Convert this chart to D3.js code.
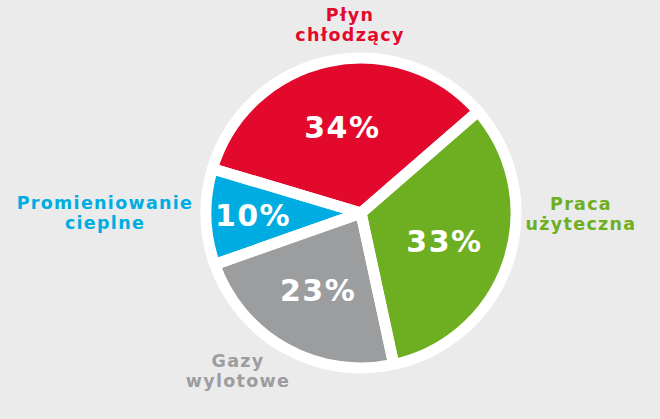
<!DOCTYPE html>
<html>
<head>
<meta charset="utf-8">
<script src="https://cdn.jsdelivr.net/npm/d3@7"></script>
<style>
  html, body { margin: 0; padding: 0; background: #ebebeb; }
  svg { display: block; }
</style>
</head>
<body>
<svg id="chart" width="660" height="419"></svg>
<script>
// Data (clockwise from the green slice)
const categories = ["Praca użyteczna", "Gazy wylotowe", "Promieniowanie cieplne", "Płyn chłodzący"];
const labelLines = [["Praca", "użyteczna"], ["Gazy", "wylotowe"], ["Promieniowanie", "cieplne"], ["Płyn", "chłodzący"]];
const values = [33, 23, 10, 34];
const valueLabels = ["33%", "23%", "10%", "34%"];
const colors = ["#6eaf21", "#9c9d9f", "#00ade2", "#e2092c"];

const W = 660, H = 419;
const cx = 361, cy = 213;
const ringR = 160, sliceR = 155, gap = 11;
const startDeg = 49;

const svg = d3.select("#chart");
svg.append("rect").attr("width", W).attr("height", H).attr("fill", "#ebebeb");

const g = svg.append("g").attr("transform", `translate(${cx},${cy})`);
g.append("circle").attr("r", ringR).attr("fill", "#ffffff");

const pie = d3.pie().sort(null).value(d => d)
  .startAngle(startDeg * Math.PI / 180)
  .endAngle(startDeg * Math.PI / 180 + 2 * Math.PI);
const arcs = pie(values);
const arc = d3.arc().innerRadius(0).outerRadius(sliceR);

g.selectAll("path.fill").data(arcs).join("path")
  .attr("class", "fill")
  .attr("d", arc)
  .attr("fill", (d, i) => colors[i]);

// white separators
g.selectAll("path.sep").data(arcs).join("path")
  .attr("class", "sep")
  .attr("d", arc)
  .attr("fill", "none")
  .attr("stroke", "#ffffff")
  .attr("stroke-width", gap)
  .attr("stroke-linejoin", "round");

// percentage labels
const labelArc = d3.arc().innerRadius(88).outerRadius(88);
const narrowArc = d3.arc().innerRadius(108).outerRadius(108);
g.selectAll("text.pct").data(arcs).join("text")
  .attr("class", "pct")
  .attr("transform", d => {
    const c = (d.endAngle - d.startAngle < 0.8) ? narrowArc.centroid(d) : labelArc.centroid(d);
    return `translate(${c[0]},${c[1]})`;
  })
  .attr("text-anchor", "middle")
  .attr("dy", "0.36em")
  .attr("font-family", "DejaVu Sans")
  .attr("font-weight", "bold")
  .attr("font-size", 30)
  .attr("letter-spacing", "1.5px")
  .attr("fill", "#ffffff")
  .text((d, i) => valueLabels[i]);

// outer category labels, placed around the pie
const outerPos = [
  { x: 581, y: 210 },   // Praca użyteczna
  { x: 238, y: 367 },   // Gazy wylotowe
  { x: 105, y: 209 },   // Promieniowanie cieplne
  { x: 350, y: 21 }     // Płyn chłodzący
];
const lineH = 19.5;
categories.forEach((c, i) => {
  const t = svg.append("text")
    .attr("x", outerPos[i].x)
    .attr("y", outerPos[i].y)
    .attr("text-anchor", "middle")
    .attr("font-family", "DejaVu Sans")
    .attr("font-weight", "bold")
    .attr("font-size", 17.5)
    .attr("letter-spacing", "1.3px")
    .attr("fill", colors[i]);
  labelLines[i].forEach((ln, j) => {
    t.append("tspan").attr("x", outerPos[i].x).attr("dy", j === 0 ? 0 : lineH).text(ln);
  });
});
</script>
</body>
</html>
